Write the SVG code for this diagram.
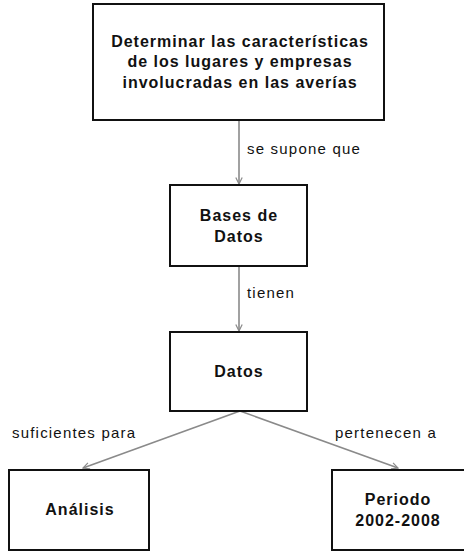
<svg xmlns="http://www.w3.org/2000/svg" width="464" height="553" viewBox="0 0 464 553">
<defs>
<marker id="arr" viewBox="0 0 10 10" refX="9" refY="5" markerWidth="8" markerHeight="8" orient="auto" markerUnits="userSpaceOnUse">
<path d="M1,1 L9,5 L1,9" fill="none" stroke="#8a8a8a" stroke-width="1.5"/>
</marker>
<style>
.box{fill:#fff;stroke:#111;stroke-width:2}
.t{font-family:"Liberation Sans",Arial,sans-serif;font-weight:bold;font-size:16px;letter-spacing:1px;fill:#111;text-anchor:middle}
.l{font-family:"Liberation Sans",Arial,sans-serif;font-size:15px;letter-spacing:1.2px;fill:#111}
.c{stroke:#8a8a8a;stroke-width:1.6;fill:none;marker-end:url(#arr)}
</style>
</defs>
<rect width="464" height="553" fill="#fff"/>
<g id="connectors">
<line class="c" x1="239" y1="121" x2="239" y2="184"/>
<line class="c" x1="239" y1="267" x2="239" y2="331"/>
<line class="c" x1="240" y1="411" x2="83" y2="468"/>
<line class="c" x1="240" y1="411" x2="398" y2="468"/>
<text class="l" x="247" y="154">se supone que</text>
<text class="l" x="247" y="298">tienen</text>
<text class="l" x="12" y="438">suficientes para</text>
<text class="l" x="335" y="438">pertenecen a</text>
</g>
<g id="n1">
<rect class="box" x="93" y="4" width="291" height="116"/>
<text class="t" x="240" y="47">Determinar las características</text>
<text class="t" x="240" y="67">de los lugares y empresas</text>
<text class="t" x="240" y="88">involucradas en las averías</text>
</g>
<g id="n2">
<rect class="box" x="170" y="185" width="137" height="81"/>
<text class="t" x="239" y="221">Bases de</text>
<text class="t" x="239" y="242">Datos</text>
</g>
<g id="n3">
<rect class="box" x="170" y="332" width="137" height="79"/>
<text class="t" x="239" y="377">Datos</text>
</g>
<g id="n4">
<rect class="box" x="9" y="470" width="140" height="80"/>
<text class="t" x="80" y="515">Análisis</text>
</g>
<g id="n5">
<rect class="box" x="332" y="470" width="140" height="80"/>
<text class="t" x="398" y="505">Periodo</text>
<text class="t" x="398" y="526">2002-2008</text>
</g>
</svg>
